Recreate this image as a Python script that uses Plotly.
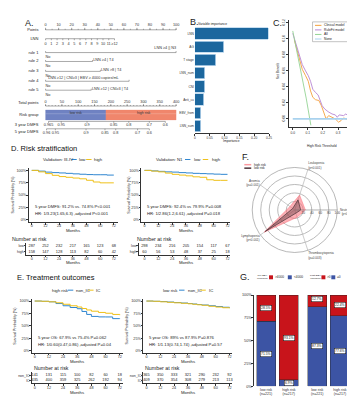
import plotly.graph_objects as go

W, H = 355, 400
FONT = "Liberation Sans, Arial, sans-serif"

# ====================== DATA ======================
# A. Nomogram
nomo_labels = ["Points", "LNN", "rule 1", "rule 2", "rule 3", "rule 4", "rule 5",
               "Total points", "Risk group", "3 year DMFS", "5 year DMFS"]
points_ticks = [0, 10, 20, 30, 40, 50, 60, 70, 80, 90, 100]
lnn_tick_labels = ["0", "1", "2", "3", "4", "5", "6", "7", "8", "9", "10", "11", "≥12"]
lnn_tick_points = [0, 4.4, 8.8, 13.2, 17.6, 22.0, 26.4, 30.8, 35.2, 39.6, 44.0, 48.4, 52.8]
rule_names = ["rule 1", "rule 2", "rule 3", "rule 4", "rule 5"]
rule_points = [100, 36, 42, 64, 35]
rule_yes = ["LNN ≥4 || N3", "LNN ≥4 | T4", "LNN >8 | T4",
            "LNN ≥12 | CNI≥3 | EBV ≥ 4000 copies/mL", "LNN ≥12 | CNI≥3 | T4"]
total_ticks = [0, 50, 100, 150, 200, 250, 300, 350, 400]
risk_cut = 185
risk_groups = ["low risk", "high risk"]
dmfs3_labels = ["0.965", "0.95", "0.9", "0.85", "0.8", "0.7", "0.6"]
dmfs3_total = [9, 48, 127, 209, 255, 318, 367]
dmfs5_labels = ["0.96", "0.95", "0.9", "0.85", "0.8", "0.7", "0.6"]
dmfs5_total = [3, 30, 124, 182, 215, 282, 318]

# B. Variable importance
imp_vars = ["LNN", "AG", "T stage", "LNN_num", "CNI", "Anti_cu", "EBV_from", "LNN_sum"]
imp_vals = [0.247, 0.097, 0.070, 0.033, 0.033, 0.030, 0.020, 0.020]

# C. Decision curve
dca_rf_thr = [0.0, 0.031, 0.052, 0.063, 0.085, 0.103, 0.118, 0.133, 0.151, 0.168, 0.195,
              0.212, 0.234, 0.260, 0.282, 0.295, 0.308, 0.337, 0.352, 0.369, 0.38]
dca_rf_nb = [0.107, 0.087, 0.074, 0.068, 0.060, 0.054, 0.047, 0.037, 0.033, 0.030, 0.0165,
             0.0124, 0.0091, 0.0062, 0.005, 0.002, 0.005, 0.0041, 0.0062, 0.0037, 0.0]
dca_cl_thr = [0.01, 0.041, 0.063, 0.085, 0.103, 0.118, 0.133, 0.151, 0.173, 0.190, 0.205,
              0.221, 0.238, 0.260, 0.282, 0.304, 0.321, 0.337, 0.358, 0.38]
dca_cl_nb = [0.099, 0.078, 0.062, 0.054, 0.047, 0.035, 0.027, 0.024, 0.023, 0.0165, 0.0083,
             0.0, 0.0041, 0.002, 0.0, -0.0041, -0.002, 0.0012, -0.0004, -0.0008]
dca_all_thr = [0.0, 0.03, 0.06, 0.09, 0.12]
dca_all_nb = [0.110, 0.083, 0.056, 0.025, -0.008]
dca_none_thr = [0.0, 0.37]
dca_none_nb = [0.0, 0.0]
dca_names = ["Clinical model", "RuleFit model", "All", "None"]

# D. Risk stratification
d_months = [0, 6, 12, 18, 24, 30, 36, 42, 48, 54, 60, 66, 72]
d1_low = [1, .985, .965, .955, .948, .94, .93, .922, .915, .912, .912, .905, .905]
d1_high = [1, .97, .935, .90, .875, .86, .845, .83, .80, .765, .748, .748, .748]
d2_low = [1, .99, .98, .97, .965, .955, .948, .94, .935, .93, .924, .92, .92]
d2_high = [1, .985, .97, .945, .92, .905, .89, .87, .86, .81, .799, .799, .799]
risk_months = [0, 12, 24, 36, 48, 60, 72]
d1_risk_low = [287, 252, 232, 217, 165, 123, 68]
d1_risk_high = [158, 147, 128, 113, 82, 60, 42]
d2_risk_low = [298, 234, 216, 205, 154, 117, 67]
d2_risk_high = [60, 56, 53, 48, 37, 25, 18]

# E. Treatment outcomes
e_months = [0, 6, 12, 18, 24, 30, 36, 40, 44, 48, 54, 60, 66, 72]
e1_nonic = [1, .995, .985, .95, .905, .87, .845, .79, .73, .69, .68, .679, .645, .64]
e1_ic = [1, .995, .985, .965, .935, .905, .88, .85, .82, .795, .77, .754, .73, .715]
e2_nonic = [1, .995, .99, .98, .97, .96, .95, .94, .93, .92, .905, .89, .875, .865]
e2_ic = [1, .995, .985, .975, .965, .955, .945, .935, .925, .915, .895, .879, .865, .855]
e1_risk_nonic = [141, 131, 115, 100, 82, 60, 18]
e1_risk_ic = [435, 400, 359, 325, 262, 192, 94]
e2_risk_nonic = [365, 350, 333, 321, 290, 232, 92]
e2_risk_ic = [409, 370, 354, 308, 279, 213, 113]

# F. Radar
radar_cats = ["Neutropenia<br>(p<0.001)", "Leukopenia<br>(p<0.001)", "Anemia<br>(p=0.001)",
              "Lymphopenia<br>(p<0.001)", "Thrombocytopenia<br>(p=0.003)"]
radar_angles = [0, 72, 144, 216, 288]
radar_high = [25, 37, 14, 89, 18]
radar_low = [14, 25, 6, 86, 8]

# G. Stacked bars
g_groups = ["low risk<br>(n=221)", "high risk<br>(n=217)", "low risk<br>(n=221)", "high risk<br>(n=217)"]
g_blue = [0.715, 0.069, 0.873, 0.776]
g_red = [0.285, 0.931, 0.127, 0.224]
g_pvals = ["P<0.001", "P=0.007"]

# ====================== HELPERS ======================
def px(x): return x / W
def py(y): return 1 - y / H
def X(a, b): return [px(a), px(b)]
def Y(top, bot): return [py(bot), py(top)]

def rng(a, b, pa, pb, va, vb):
    s = (pb - pa) / (vb - va)
    return [va + (a - pa) / s, va + (b - pa) / s]

fig = go.Figure()
ann, shapes = [], []
layout_axes = {}

def T(x, y, text, size=4.5, color="#222", xanchor="left", yanchor="middle", **kw):
    ann.append(dict(x=px(x), y=py(y), xref="paper", yref="paper", text=text, showarrow=False,
                    font=dict(size=size, color=color, family=FONT), xanchor=xanchor,
                    yanchor=yanchor, borderpad=0, **kw))

def LS(x0, x1, y0, y1, color, width=1.0):
    shapes.append(dict(type="line", xref="paper", yref="paper", x0=px(x0), x1=px(x1),
                       y0=py(y0), y1=py(y1), line=dict(color=color, width=width)))

def axes(n, xd, yd, xr, yr, xkw=None, ykw=None):
    xn = "xaxis" if n == 1 else f"xaxis{n}"
    yn = "yaxis" if n == 1 else f"yaxis{n}"
    xa = dict(domain=xd, range=xr, anchor="y" if n == 1 else f"y{n}", showgrid=False,
              zeroline=False, visible=False, fixedrange=True)
    ya = dict(domain=yd, range=yr, anchor="x" if n == 1 else f"x{n}", showgrid=False,
              zeroline=False, visible=False, fixedrange=True)
    if xkw: xa.update(xkw)
    if ykw: ya.update(ykw)
    layout_axes[xn] = xa
    layout_axes[yn] = ya

def axstyle(tickvals, ticktext=None, size=4.0, angle=None, standoff=None):
    d = dict(visible=True, showline=True, linecolor="#333", linewidth=0.6, ticks="outside",
             ticklen=2, tickwidth=0.5, tickcolor="#333", tickvals=tickvals,
             tickfont=dict(size=size, family=FONT, color="#333"))
    if ticktext is not None: d["ticktext"] = ticktext
    if angle is not None: d["tickangle"] = angle
    if standoff is not None: d["ticklabelstandoff"] = standoff
    return d

# ====================== A. NOMOGRAM ======================
NX0, NX100 = 37, 169
axes(1, X(0, 180), Y(5, 130), rng(0, 180, NX0, NX100, 0, 100), [130, 5])
row_y = {"Points": 20, "LNN": 29, "rule 1": 43, "rule 2": 52, "rule 3": 62, "rule 4": 72,
         "rule 5": 81, "Total points": 97, "Risk group": 106, "3 year DMFS": 112.5, "5 year DMFS": 120}
row_lab_y = dict(row_y); row_lab_y["Total points"] = 94; row_lab_y["3 year DMFS"] = 116; row_lab_y["5 year DMFS"] = 123.5
lx, ly = [], []
def seg(x0, y0, x1, y1):
    lx.extend([x0, x1, None]); ly.extend([y0, y1, None])
tx, ty, tt = [], [], []
def nt(x, y, t):
    tx.append(x); ty.append(y); tt.append(t)

yP = row_y["Points"]
seg(0, yP, 100, yP)
for v in points_ticks:
    seg(v, yP, v, yP - 2); nt(v, yP - 4.5, str(v))
for v in range(0, 101, 5):
    seg(v, yP, v, yP - 1)
yL = row_y["LNN"]
seg(0, yL, lnn_tick_points[-1], yL)
for v, lab in zip(lnn_tick_points, lnn_tick_labels):
    seg(v, yL, v, yL + 1.5); nt(v, yL + 5, lab)
no_x, no_y = [], []
for name, pts in zip(rule_names, rule_points):
    yy = row_y[name]
    seg(0, yy, pts, yy); seg(0, yy, 0, yy - 1.5); seg(pts, yy, pts, yy - 1.5)
    no_x.append(0); no_y.append(yy + 4.5)
yT = row_y["Total points"]
seg(0, yT, 100, yT)
for v in total_ticks:
    seg(v / 4, yT, v / 4, yT - 2); nt(v / 4, yT - 4, str(v))
for v in range(0, 401, 10):
    seg(v / 4, yT, v / 4, yT - 1)
for labs, tots, key in [(dmfs3_labels, dmfs3_total, "3 year DMFS"), (dmfs5_labels, dmfs5_total, "5 year DMFS")]:
    yy = row_y[key]
    seg(tots[0] / 4, yy, tots[-1] / 4, yy)
    for t, lab in zip(tots, labs):
        seg(t / 4, yy, t / 4, yy + 1.5); nt(t / 4, yy + 4, lab)

yr0, yr1 = 101, 111
for (a, b), col in zip([(0, risk_cut), (risk_cut, 400)], ["#6f82c2", "#f0866c"]):
    fig.add_trace(go.Scatter(x=[a / 4, b / 4, b / 4, a / 4, a / 4], y=[yr0, yr0, yr1, yr1, yr0],
                             fill="toself", fillcolor=col, mode="lines", line=dict(width=0.3, color=col),
                             xaxis="x", yaxis="y", showlegend=False, hoverinfo="skip"))
    fig.add_trace(go.Scatter(x=[a / 4, b / 4], y=[(yr0 + yr1) / 2 - 1.2] * 2, mode="lines",
                             line=dict(width=0.4, color="rgba(255,255,255,0.5)"),
                             xaxis="x", yaxis="y", showlegend=False, hoverinfo="skip"))
fig.add_trace(go.Scatter(x=[risk_cut / 8, (risk_cut + 400) / 8 + 2], y=[104, 104], text=risk_groups,
                         mode="text", textfont=dict(size=3.6, family=FONT, color="#333"),
                         xaxis="x", yaxis="y", showlegend=False, hoverinfo="skip", cliponaxis=False))

fig.add_trace(go.Scatter(x=lx, y=ly, mode="lines", line=dict(color="#555", width=0.5),
                         xaxis="x", yaxis="y", showlegend=False, hoverinfo="skip"))
fig.add_trace(go.Scatter(x=tx, y=ty, text=tt, mode="text", textfont=dict(size=3.8, family=FONT, color="#333"),
                         xaxis="x", yaxis="y", showlegend=False, hoverinfo="skip", cliponaxis=False))
fig.add_trace(go.Scatter(x=no_x, y=no_y, text=["No"] * len(no_x), mode="text", textposition="middle right",
                         textfont=dict(size=3.8, family=FONT, color="#333"),
                         xaxis="x", yaxis="y", showlegend=False, hoverinfo="skip", cliponaxis=False))
for i, (name, pts, lab) in enumerate(zip(rule_names, rule_points, rule_yes)):
    yy = row_y[name]
    if i == 0:
        xx, yv = pts, yy - 4.5
    elif i == 3:
        xx, yv = 2, yy - 2.8
    else:
        xx, yv = pts + 0.5, yy - 1.2
    fig.add_trace(go.Scatter(x=[xx], y=[yv], text=[lab], mode="text",
                             textposition="middle left" if i == 0 else "middle right",
                             textfont=dict(size=3.8, family=FONT, color="#333"),
                             xaxis="x", yaxis="y", showlegend=False, hoverinfo="skip", cliponaxis=False))
fig.add_trace(go.Scatter(x=[-5.5] * len(nomo_labels), y=[row_lab_y[k] for k in nomo_labels], text=nomo_labels,
                         mode="text", textposition="middle left",
                         textfont=dict(size=4.0, family=FONT, color="#222"),
                         xaxis="x", yaxis="y", showlegend=False, hoverinfo="skip", cliponaxis=False))
T(15, 13, "A.", size=9)

# ====================== B. VARIABLE IMPORTANCE ======================
axes(2, X(188, 263), Y(17, 124), [0, 0.25], [len(imp_vars) - 0.5, -0.5],
     xkw=axstyle([0, 0.05, 0.10, 0.15, 0.20, 0.25], ["0", "0.05", "0.10", "0.15", "0.20", "0.25"], size=3.2),
     ykw=dict(visible=True, showline=False, ticks="", tickfont=dict(size=3.2, family=FONT, color="#333"),
              tickvals=list(range(len(imp_vars))), ticktext=imp_vars, range=[len(imp_vars) - 0.5, -0.5]))
fig.add_trace(go.Bar(x=imp_vals, y=list(range(len(imp_vars))), orientation="h", width=0.86,
                     marker=dict(color="#1c679e", line=dict(color="#b9d6ec", width=0.8)),
                     xaxis="x2", yaxis="y2", showlegend=False, hoverinfo="skip"))
T(190, 14.5, "Variable importance", size=3.3)
T(225, 132.5, "Importance", size=3.3, xanchor="center")
T(182, 12, "B.", size=9)

# ====================== C. DCA ======================
axes(3, X(283, 351), Y(10, 118), rng(283, 351, 287, 348, 0, 0.4), [-0.0099, 0.1238],
     xkw=axstyle([0, 0.1, 0.2, 0.3, 0.4], ["0.0", "0.1", "0.2", "0.3", "0.4"], size=3.3),
     ykw=axstyle([0, 0.02, 0.04, 0.06, 0.08, 0.10, 0.12],
                 ["0.00", "0.02", "0.04", "0.06", "0.08", "0.10", "0.12"], size=3.3, angle=-90))
dca_cols = ["#f5a03c", "#b886d2", "#94d494", "#a9d2ee"]
for (xs, ys), col, w in zip([(dca_cl_thr, dca_cl_nb), (dca_rf_thr, dca_rf_nb), (dca_all_thr, dca_all_nb),
                             (dca_none_thr, dca_none_nb)], dca_cols, [0.9, 0.9, 0.9, 1.6]):
    fig.add_trace(go.Scatter(x=xs, y=ys, mode="lines", line=dict(color=col, width=w),
                             xaxis="x3", yaxis="y3", showlegend=False, hoverinfo="skip"))
shapes.append(dict(type="rect", xref="paper", yref="paper", x0=px(307), x1=px(345), y0=py(32), y1=py(12),
                   line=dict(color="#888", width=0.5), fillcolor="white"))
for i, (nm, col) in enumerate(zip(dca_names, dca_cols)):
    yy = 15.5 + i * 4.6
    LS(309.5, 316, yy, yy, col, 1.0)
    T(317.5, yy, nm, size=3.3)
T(272, 62, "Net Benefit", size=3.3, xanchor="center", textangle=-90)
T(317, 137, "High Risk Threshold", size=3.3, xanchor="center")
T(266, 13, "C.", size=9)

# ====================== KM PANELS ======================
BL, YE = "#2f86d0", "#efc11a"

def km(n, nt_, xd, p0, p72, ytop, y100, y0, ybot, times, curves, cols,
       tab_left, tab_rows, tab_labels, tab_vals, tab_y, ytitle_x):
    xr = rng(xd[0], xd[1], p0, p72, 0, 72)
    axes(n, X(*xd), Y(ytop, ybot), xr, rng(ybot, ytop, y0, y100, 0, 1),
         xkw=axstyle([0, 12, 24, 36, 48, 60, 72], size=3.8, standoff=-2),
         ykw=axstyle([0, .25, .5, .75, 1], ["0%", "25%", "50%", "75%", "100%"], size=3.8, standoff=-1))
    for s, c in zip(curves, cols):
        fig.add_trace(go.Scatter(x=times, y=s, mode="lines", line=dict(color=c, width=1.0, shape="hv"),
                                 xaxis=f"x{n}", yaxis=f"y{n}", showlegend=False, hoverinfo="skip"))
    txr = rng(tab_left, xd[1], p0, p72, 0, 72)
    r_top, r_bot = tab_rows
    ya_, yb_ = tab_y
    axes(nt_, X(tab_left, xd[1]), Y(r_top, r_bot), txr, rng(r_bot, r_top, yb_, ya_, 0, 1),
         xkw=axstyle([0, 12, 24, 36, 48, 60, 72], size=3.8, standoff=-2),
         ykw=dict(visible=True, showline=True, linecolor="#333", linewidth=0.6, ticks="outside", ticklen=1.5,
                  tickwidth=0.5, tickvals=[1, 0], ticktext=tab_labels, ticklabelstandoff=-1,
                  tickfont=dict(size=3.6, family=FONT, color="#333")))
    for vals, yv in zip(tab_vals, [1, 0]):
        fig.add_trace(go.Scatter(x=risk_months, y=[yv] * len(vals), text=[str(v) for v in vals], mode="text",
                                 textfont=dict(size=3.9, family=FONT, color="#222"),
                                 xaxis=f"x{nt_}", yaxis=f"y{nt_}", showlegend=False, hoverinfo="skip",
                                 cliponaxis=False))
    T(ytitle_x, (y100 + y0) / 2, "Survival Probability (%)", size=3.6, xanchor="center", textangle=-90)

km(4, 5, (20, 110), 23, 106, 160, 162, 212, 214, d_months, [d1_low, d1_high], [BL, YE],
   17, (235, 247), ["low", "high"], [d1_risk_low, d1_risk_high], (238, 244), 4.5)
km(6, 7, (134, 224), 137, 221, 160, 162, 212, 214, d_months, [d2_low, d2_high], [BL, YE],
   131, (235, 247), ["low", "high"], [d2_risk_low, d2_risk_high], (238, 244), 121)
km(8, 9, (23, 115), 26, 112, 292, 294, 344, 346, e_months, [e1_nonic, e1_ic], [BL, YE],
   23, (366, 377), ["non_IC", "IC"], [e1_risk_nonic, e1_risk_ic], (369, 374), 6)
km(10, 11, (136, 226), 139, 223, 292, 294, 344, 346, e_months, [e2_nonic, e2_ic], [BL, YE],
   136, (366, 377), ["non_IC", "IC"], [e2_risk_nonic, e2_risk_ic], (369, 374), 119)

def km_legend(title, x_title, x_seg1, x_low, x_seg2, x_high, y, lab1, lab2):
    T(x_title, y, title, size=4.3)
    LS(x_seg1, x_seg1 + 5.5, y, y, BL, 1.0)
    T(x_low, y, lab1, size=4.3)
    LS(x_seg2, x_seg2 + 5.5, y, y, YE, 1.0)
    T(x_high, y, lab2, size=4.3)

T(1, 140, "D. Risk stratification", size=7.5, color="#111")
km_legend("Validation: III-IV", 33, 63, 70, 78, 85, 151, "low", "high")
km_legend("Validation: N1", 148, 178, 186, 196, 204, 151, "low", "high")
T(25, 198, "5 year DMFS: 91.2% vs. 74.8% P<0.001", size=4.2)
T(25, 206, "HR: 1/3.23(1.65,6.3) ,adjusted P<0.001", size=4.2)
T(139, 198, "5 year DMFS: 92.4% vs 79.9% P=0.008", size=4.2)
T(139, 206, "HR: 1/2.86(1.2,6.61) ,adjusted P=0.018", size=4.2)
T(64.5, 223, "Months", size=4.3, xanchor="center")
T(179, 223, "Months", size=4.3, xanchor="center")
T(2, 231, "Number at risk", size=5.3)
T(128, 231, "Number at risk", size=5.3)
T(64.5, 255.5, "Months", size=4.3, xanchor="center")
T(179, 255.5, "Months", size=4.3, xanchor="center")

T(7, 270, "E. Treatment outcomes", size=7.5, color="#111")
km_legend("high risk", 42, 59.5, 67, 80, 87, 283, "non_IC", "IC")
km_legend("low risk", 155, 172, 180, 193.5, 201, 283, "non_IC", "IC")
T(28, 331, "5 year OS: 67.9% vs 75.4% P=0.062", size=4.2)
T(28, 338, "HR: 1/0.60(0.47,0.86) ,adjusted P=0.04", size=4.2)
T(141, 331, "5 year OS: 89% vs 87.9% P=0.876", size=4.2)
T(141, 338, "HR: 1/1.13(0.74,1.74) ,adjusted P=0.57", size=4.2)
T(69, 355, "Months", size=4.3, xanchor="center")
T(181, 355, "Months", size=4.3, xanchor="center")
T(24, 362, "Number at risk", size=5.3)
T(137, 362, "Number at risk", size=5.3)
T(69, 386, "Months", size=4.3, xanchor="center")
T(181, 386, "Months", size=4.3, xanchor="center")

# ====================== F. RADAR ======================
fig.add_trace(go.Scatterpolar(r=radar_high + radar_high[:1], theta=radar_angles + radar_angles[:1], mode="lines",
                              fill="toself", fillcolor="rgba(250,110,120,0.55)",
                              line=dict(color="rgba(250,110,120,0.8)", width=0.6),
                              subplot="polar", showlegend=False, hoverinfo="skip"))
fig.add_trace(go.Scatterpolar(r=radar_low + radar_low[:1], theta=radar_angles + radar_angles[:1], mode="lines",
                              fill="toself", fillcolor="rgba(70,40,45,0.35)",
                              line=dict(color="#4a3036", width=0.7),
                              subplot="polar", showlegend=False, hoverinfo="skip"))
polar = dict(domain=dict(x=X(246, 332), y=Y(158, 246)), bgcolor="white",
             radialaxis=dict(range=[0, 100], tickvals=[20, 40, 60, 80, 100], angle=0, tickangle=0,
                             showline=True, linecolor="#666", linewidth=0.5, gridcolor="#bbb", gridwidth=0.5,
                             ticks="", tickfont=dict(size=3.2, family=FONT, color="#444")),
             angularaxis=dict(rotation=0, direction="counterclockwise", gridcolor="#ccc", gridwidth=0.5,
                              linecolor="#888", linewidth=0.6, ticks="", thetaunit="degrees",
                              tickmode="array", tickvals=radar_angles[1:], ticktext=radar_cats[1:],
                              tickfont=dict(size=3.1, family=FONT, color="#444")))
T(352, 204.5, radar_cats[0], size=2.9, color="#444", xanchor="right")
T(235, 148, "F.", size=9)
shapes.append(dict(type="rect", xref="paper", yref="paper", x0=px(238), x1=px(245), y0=py(157), y1=py(155.5),
                   fillcolor="rgba(250,110,120,0.7)", line=dict(width=0)))
shapes.append(dict(type="rect", xref="paper", yref="paper", x0=px(238), x1=px(245), y0=py(160.5), y1=py(159),
                   fillcolor="#4a3036", line=dict(width=0)))
T(246.5, 156.2, "high risk", size=3.2)
T(246.5, 159.8, "low risk", size=3.2)

# ====================== G. STACKED BARS ======================
g_x = [0, 1, 2.25, 3.25]
axes(12, X(248, 350), Y(288, 380), rng(248, 350, 260, 283, 0, 1), [0, 1],
     xkw=dict(visible=True, showline=False, ticks="", tickvals=g_x, ticktext=g_groups,
              tickfont=dict(size=3.6, family=FONT, color="#333")),
     ykw=axstyle([0, .25, .5, .75, 1], ["0%", "25%", "50%", "75%", "100%"], size=3.8, standoff=-1))
RED, BLU = "#c8141b", "#3c54a4"
fig.add_trace(go.Bar(x=g_x, y=g_blue, width=0.84, marker=dict(color=BLU, line=dict(color="#222", width=0.4)),
                     xaxis="x12", yaxis="y12", showlegend=False, hoverinfo="skip"))
fig.add_trace(go.Bar(x=g_x, y=g_red, width=0.84, marker=dict(color=RED, line=dict(color="#222", width=0.4)),
                     xaxis="x12", yaxis="y12", showlegend=False, hoverinfo="skip"))
for xv, b, r in zip(g_x, g_blue, g_red):
    for yv, v in [(b / 2, b), (b + r / 2 if r > 0.2 else b + r * 0.65, r)]:
        ann.append(dict(x=xv, y=yv, xref="x12", yref="y12", text=f"{v * 100:.1f}%", showarrow=False,
                        font=dict(size=3.3, family=FONT, color="#111"), bgcolor="white",
                        bordercolor="#111", borderwidth=0.5, borderpad=0.6))
for (a, b), pt in zip([(0, 1), (2.25, 3.25)], g_pvals):
    for seg_ in [(a, b, 1.043, 1.043), (a, a, 1.043, 1.0), (b, b, 1.043, 1.0),
                 ((a + b) / 2, (a + b) / 2, 1.043, 1.06)]:
        shapes.append(dict(type="line", xref="x12", yref="y12", x0=seg_[0], x1=seg_[1], y0=seg_[2], y1=seg_[3],
                           line=dict(color="#555", width=0.5)))
    ann.append(dict(x=(a + b) / 2, y=1.06, xref="x12", yref="y12", text=pt, showarrow=False,
                    yanchor="bottom", borderpad=0, font=dict(size=3.5, family=FONT, color="#333")))
T(233, 270, "G.", size=9)
for x0, title, l1, l2 in [(250, "Pre-EBV<br>copies/ml", ">4000", "<4000"), (303, "Post-EBV<br>copies/ml", ">0", "=0")]:
    T(x0, 270, title, size=2.5)
    xs = x0 + 13
    shapes.append(dict(type="rect", xref="paper", yref="paper", x0=px(xs), x1=px(xs + 4), y0=py(272), y1=py(268),
                       fillcolor=RED, line=dict(width=0)))
    T(xs + 5, 270, l1, size=3.2)
    xs2 = xs + (19 if len(l1) > 2 else 10)
    shapes.append(dict(type="rect", xref="paper", yref="paper", x0=px(xs2), x1=px(xs2 + 4), y0=py(272), y1=py(268),
                       fillcolor=BLU, line=dict(width=0)))
    T(xs2 + 5, 270, l2, size=3.2)

fig.update_layout(width=W, height=H, margin=dict(l=0, r=0, t=0, b=0), paper_bgcolor="white",
                  plot_bgcolor="white", barmode="stack", showlegend=False,
                  font=dict(family=FONT, size=5, color="#222"),
                  annotations=ann, shapes=shapes, polar=polar, **layout_axes)
fig.write_html("out.html")
